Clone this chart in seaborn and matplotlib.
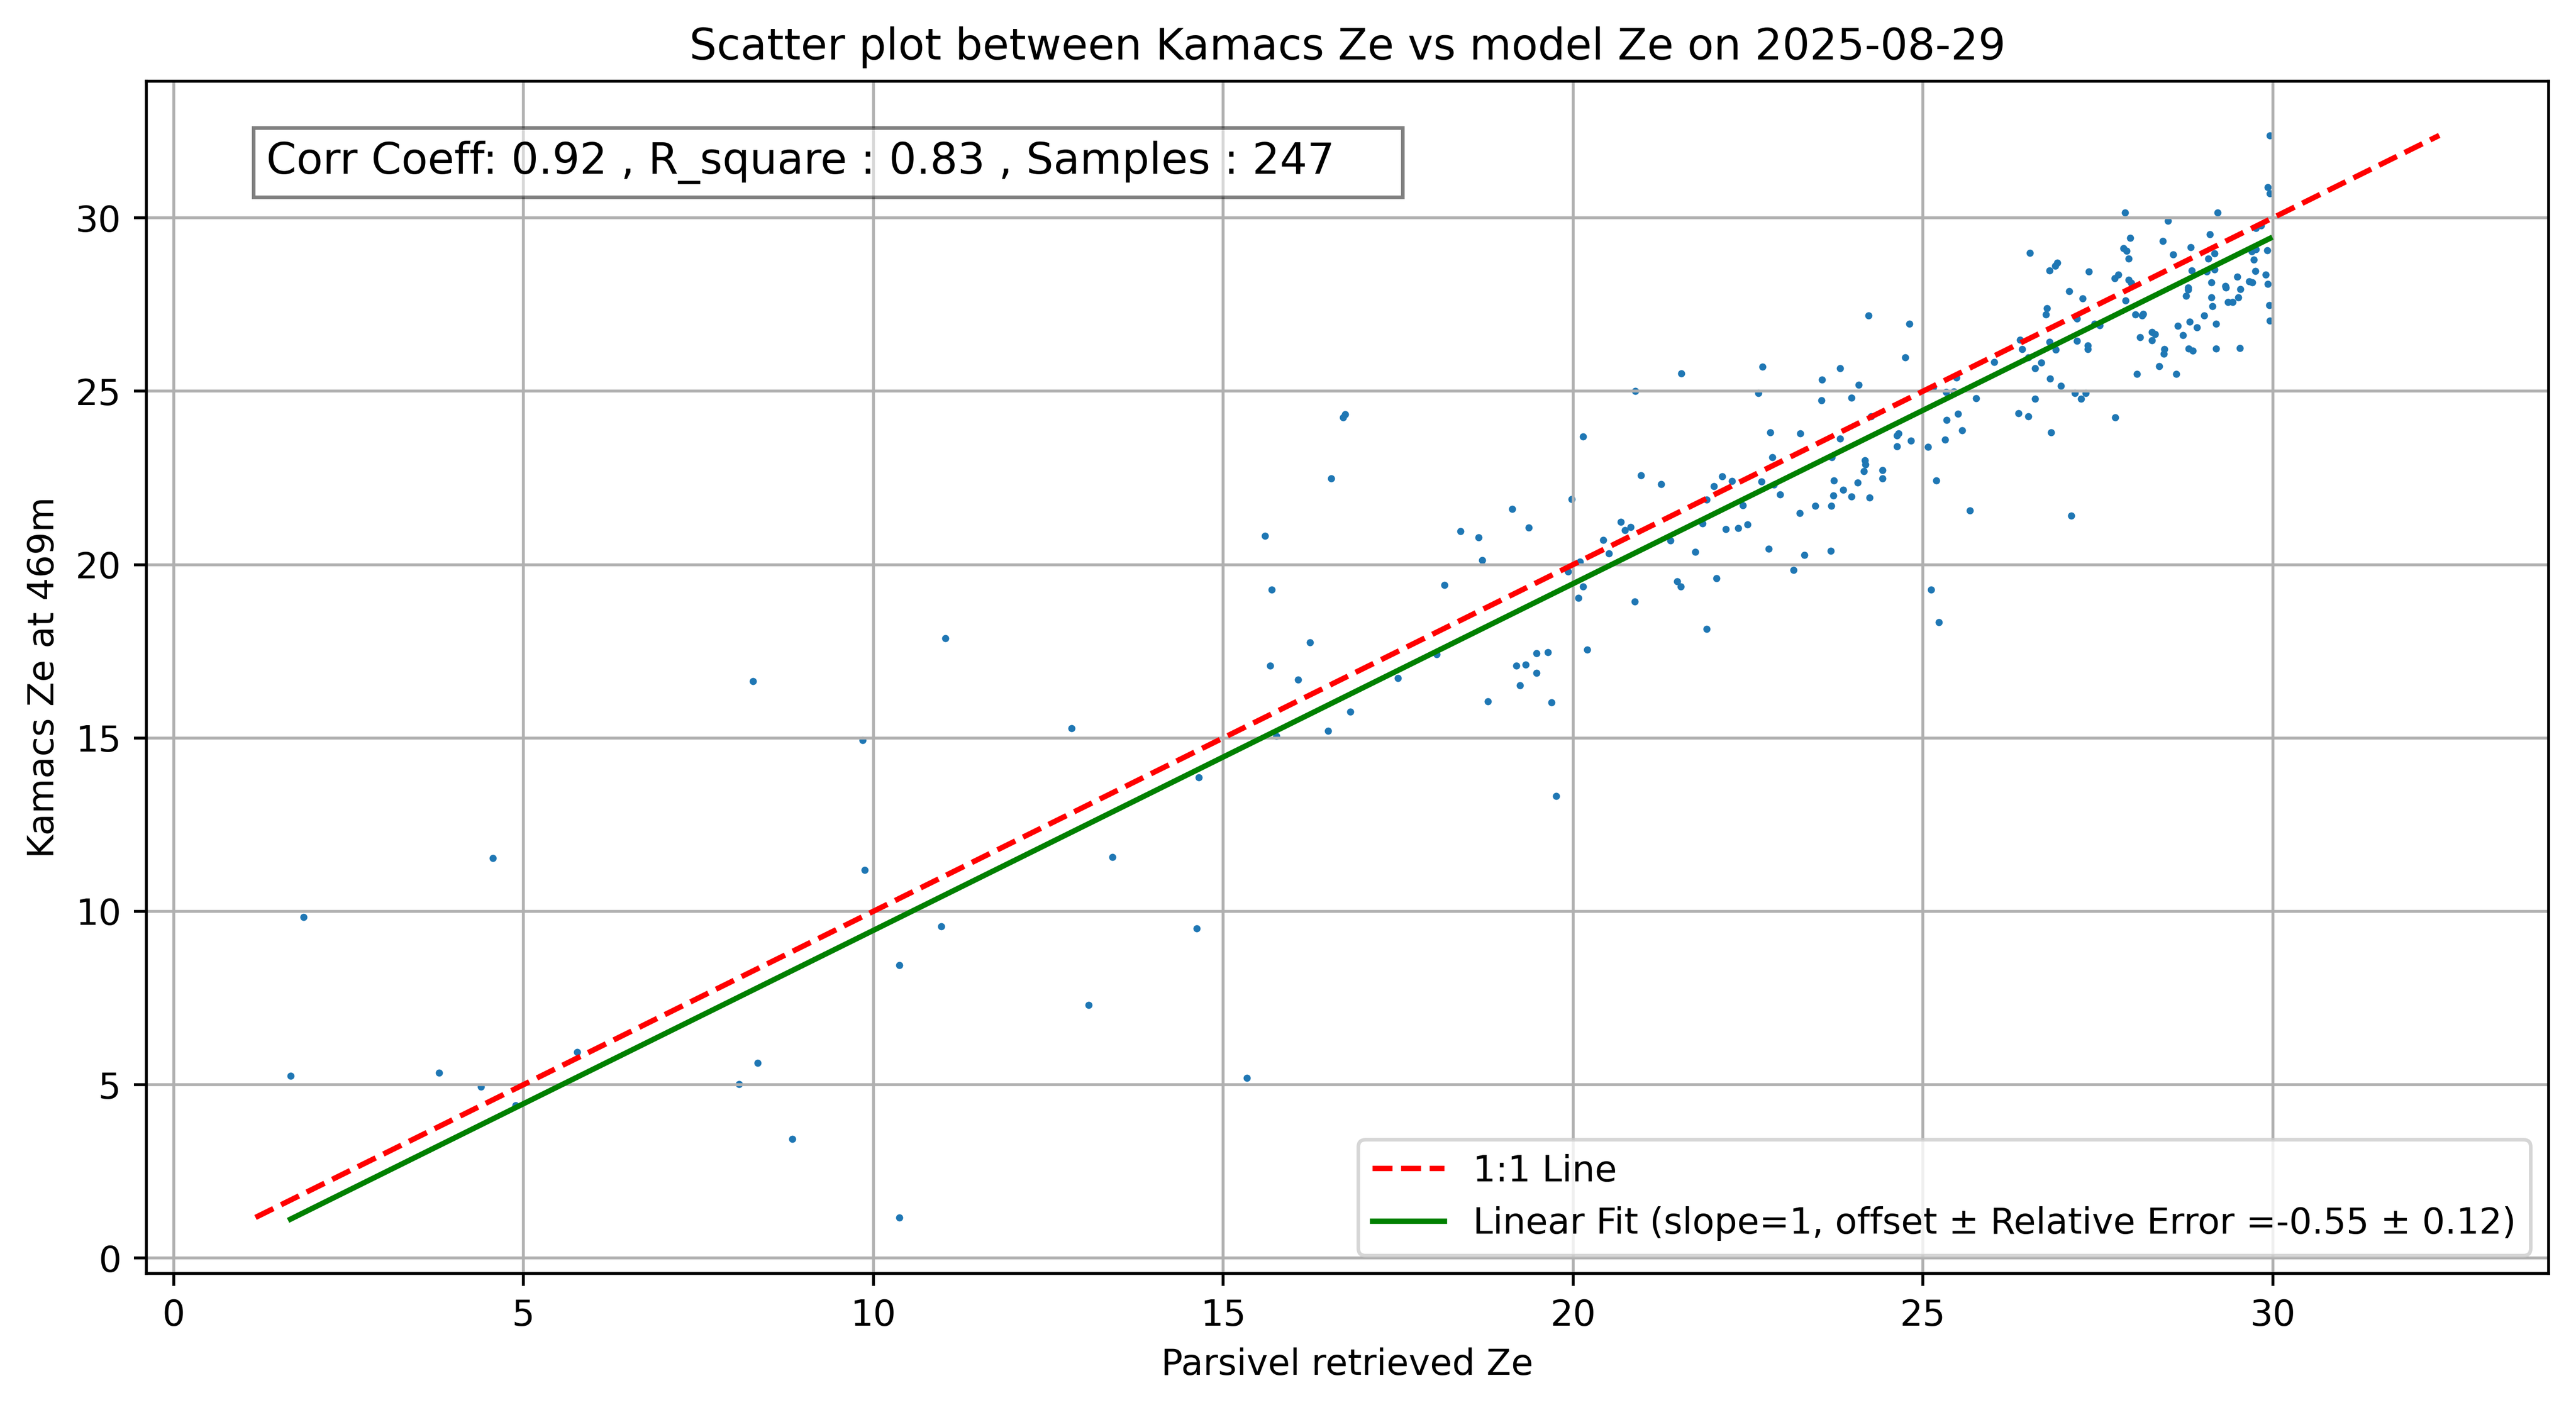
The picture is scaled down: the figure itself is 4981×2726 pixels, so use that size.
import numpy as np
import matplotlib
matplotlib.use("Agg")
import matplotlib.pyplot as plt
import seaborn as sns

# Parsivel retrieved Ze (x) and Kamacs Ze at 469m (y)
parsivel_ze = [
    29.96, 29.93, 29.96, 27.89, 29.21, 28.50, 29.76, 29.83, 27.96, 29.10,
    28.43, 26.53, 27.87, 27.91, 27.94, 28.83, 28.58, 29.08, 29.17, 29.70,
    29.76, 29.92, 29.73, 26.92, 26.89, 26.81, 27.37, 28.84, 29.06, 29.17,
    29.75, 29.90, 27.74, 27.79, 27.94, 27.98, 29.49, 29.12, 29.32, 29.33,
    28.79, 28.79, 29.54, 29.66, 29.71, 29.93, 27.09, 27.28, 27.90, 28.76,
    29.12, 29.51, 29.36, 29.43, 29.14, 29.95, 26.77, 26.76, 28.04, 28.13,
    28.15, 29.02, 29.96, 27.20, 27.45, 27.53, 28.81, 28.64, 28.92, 29.19,
    26.39, 26.42, 26.81, 26.90, 27.20, 27.36, 27.36, 28.27, 28.32, 28.27,
    28.10, 28.72, 28.45, 28.44, 28.80, 28.86, 29.19, 29.53, 26.51, 26.60,
    26.69, 26.82, 26.97, 28.38, 28.06, 28.62, 26.60, 27.17, 27.26, 27.33,
    26.37, 26.51, 27.75,
    24.22, 24.81, 24.75, 22.71, 23.82, 23.56, 24.08, 22.65, 23.55, 23.98,
    26.02, 25.48, 25.15, 25.33, 25.44, 25.76, 22.82, 23.25, 23.82, 24.26,
    24.63, 24.65, 24.83, 24.63, 25.07, 25.34, 25.50, 25.56, 25.32,
    26.83, 27.12,
    22.85, 23.70, 22.13, 22.27, 22.01, 21.91, 22.69, 22.87, 22.96, 22.43,
    22.18, 22.36, 22.49, 23.24, 23.46, 23.69, 23.72, 23.73, 23.86, 23.98,
    24.07, 24.16, 24.17, 24.18, 24.24, 24.42, 24.42, 25.19, 25.67, 22.80,
    23.31, 23.68, 23.15, 22.05, 21.91, 25.12, 25.23,
    21.55, 20.89, 20.14,
    20.97, 21.26, 19.98, 19.13, 18.39, 18.65, 19.37, 18.70, 18.16, 20.68,
    20.82, 20.74, 20.43, 20.51, 21.39, 21.85, 21.75, 20.10, 19.93, 20.14,
    20.08, 20.88, 21.49, 21.54, 20.20, 18.05, 17.50, 19.48, 19.64, 19.19,
    19.32, 19.48, 19.24, 18.78, 19.69,
    16.74, 16.71, 16.54, 15.60, 15.69, 16.24, 15.67, 16.07,
    16.82, 16.50, 15.76, 14.65, 13.42, 14.62, 13.08, 15.34,
    4.56, 1.86, 1.67, 3.79, 4.39, 4.89, 5.77,
    8.28, 11.03, 9.85, 12.83, 9.88, 10.97, 10.37, 8.35, 8.08, 8.84, 10.37,
    19.76,
]

kamacs_ze = [
    32.38, 30.89, 30.70, 30.15, 30.16, 29.91, 29.71, 29.78, 29.42, 29.53,
    29.33, 28.99, 29.13, 29.05, 28.83, 29.16, 28.95, 28.83, 28.98, 29.04,
    29.10, 29.06, 28.80, 28.71, 28.62, 28.48, 28.46, 28.48, 28.46, 28.52,
    28.47, 28.37, 28.26, 28.37, 28.22, 28.13, 28.30, 28.14, 28.03, 27.99,
    27.99, 27.93, 27.94, 28.17, 28.14, 28.10, 27.89, 27.68, 27.62, 27.75,
    27.71, 27.71, 27.57, 27.57, 27.45, 27.49, 27.40, 27.21, 27.22, 27.18,
    27.23, 27.18, 27.03, 27.10, 26.94, 26.90, 27.00, 26.89, 26.84, 26.95,
    26.49, 26.21, 26.42, 26.20, 26.45, 26.32, 26.21, 26.71, 26.65, 26.47,
    26.56, 26.62, 26.21, 26.08, 26.23, 26.17, 26.23, 26.25, 25.98, 25.67,
    25.82, 25.37, 25.16, 25.73, 25.50, 25.50, 24.78, 24.94, 24.78, 24.95,
    24.36, 24.28, 24.25,
    27.19, 26.95, 25.98, 25.71, 25.66, 25.33, 25.18, 24.94, 24.74, 24.82,
    25.84, 25.39, 25.11, 24.97, 24.99, 24.80, 23.81, 23.79, 23.63, 24.28,
    23.72, 23.78, 23.57, 23.41, 23.39, 24.17, 24.35, 23.88, 23.61,
    23.82, 21.41,
    23.09, 23.09, 22.54, 22.41, 22.26, 21.88, 22.40, 22.30, 22.02, 21.71,
    21.02, 21.06, 21.16, 21.49, 21.69, 21.69, 21.99, 22.42, 22.15, 21.96,
    22.36, 22.69, 23.01, 22.89, 21.93, 22.72, 22.49, 22.43, 21.56, 20.46,
    20.28, 20.39, 19.84, 19.60, 18.15, 19.28, 18.34,
    25.52, 25.00, 23.69,
    22.58, 22.32, 21.89, 21.60, 20.97, 20.78, 21.07, 20.13, 19.41, 21.23,
    21.09, 20.99, 20.71, 20.32, 20.70, 21.19, 20.36, 20.09, 19.80, 19.36,
    19.04, 18.94, 19.51, 19.37, 17.55, 17.42, 16.72, 17.45, 17.48, 17.09,
    17.11, 16.88, 16.52, 16.06, 16.02,
    24.34, 24.24, 22.49, 20.83, 19.28, 17.75, 17.09, 16.68,
    15.76, 15.21, 15.06, 13.86, 11.56, 9.50, 7.30, 5.19,
    11.53, 9.83, 5.25, 5.34, 4.94, 4.40, 5.94,
    16.64, 17.87, 14.94, 15.28, 11.19, 9.56, 8.45, 5.62, 5.02, 3.44, 1.17,
    13.32,
]

# statistics printed on the chart
corr_coeff = 0.92
r_square = 0.83
n_samples = 247
fit_offset = -0.55
fit_rel_err = 0.12

x = np.array(parsivel_ze)
y = np.array(kamacs_ze)

fig, ax = plt.subplots(figsize=(4981 / 500, 2726 / 500), dpi=500)
fig.subplots_adjust(left=0.0568, right=0.9893, bottom=0.0969, top=0.9424)

sns.scatterplot(x=x, y=y, s=4, linewidth=0, color="#1f77b4", ax=ax)

# 1:1 line over the whole data range
lo = min(x.min(), y.min())
hi = max(x.max(), y.max())
ax.plot([lo, hi], [lo, hi], "r--", label="1:1 Line")

# fit with slope fixed to 1
xf = np.array([x.min(), x.max()])
ax.plot(xf, xf + fit_offset, "g-",
        label=f"Linear Fit (slope=1, offset \u00b1 Relative Error ={fit_offset:.2f} \u00b1 {fit_rel_err:.2f})")

ax.text(0.05, 0.95,
        f"Corr Coeff: {corr_coeff:.2f} , R_square : {r_square:.2f} , Samples : {n_samples}    ",
        transform=ax.transAxes, fontsize=12, va="top",
        bbox=dict(facecolor="white", alpha=0.5, boxstyle="square,pad=0.3"))

ax.set_title("Scatter plot between Kamacs Ze vs model Ze on 2025-08-29", fontsize=12)
ax.set_xlabel("Parsivel retrieved Ze")
ax.set_ylabel("Kamacs Ze at 469m")
ax.legend(loc="lower right")
ax.grid(True)

fig.savefig("out.png", dpi=500)
